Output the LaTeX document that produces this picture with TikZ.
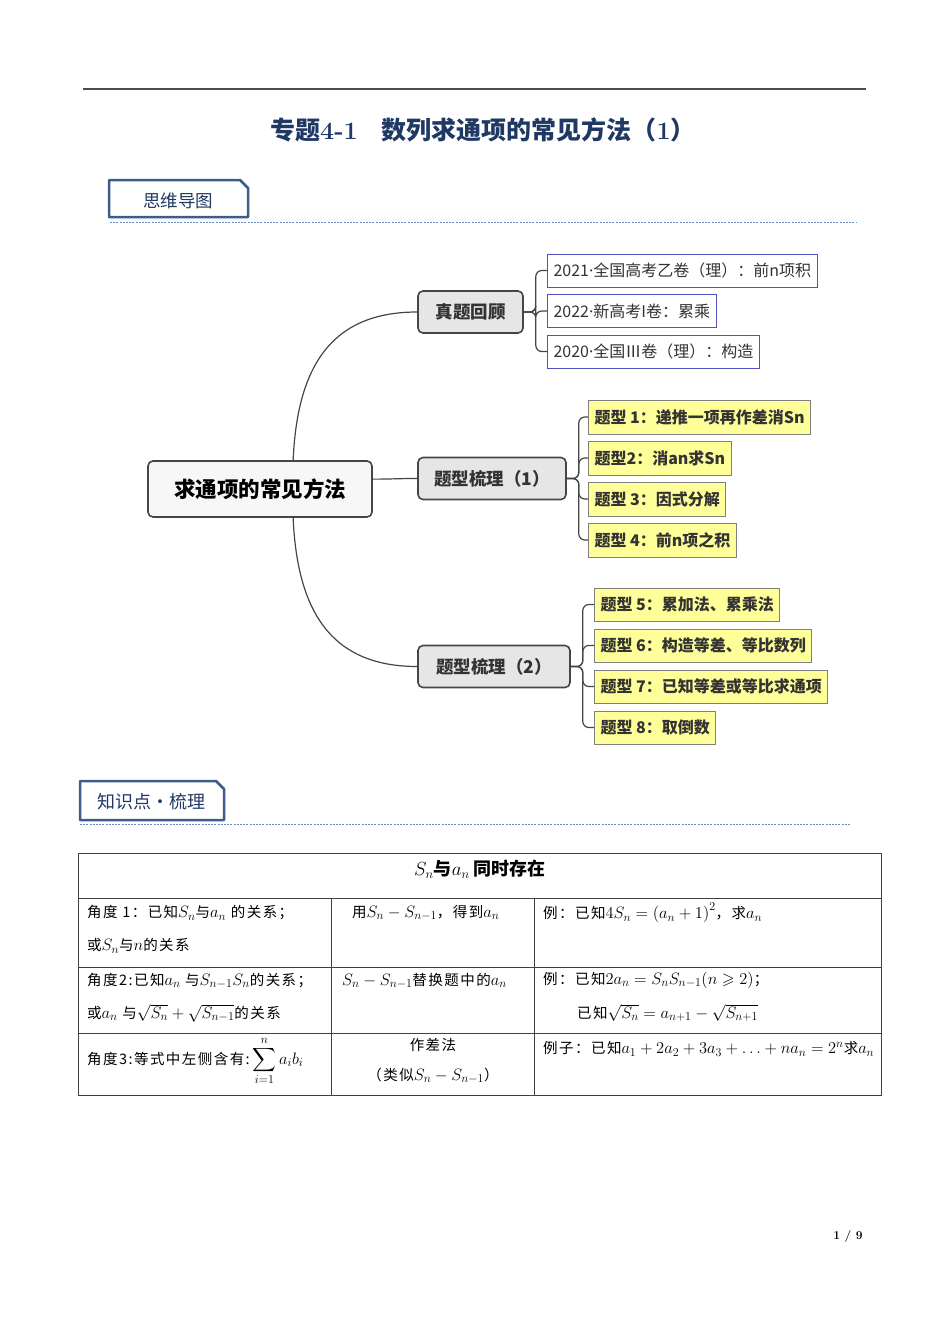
\documentclass[tikz,border=0pt]{standalone}
\usepackage{fix-cm}
\usepackage{amsmath}
\usepackage{amssymb}
\usepackage{fontspec}
\newfontfamily\cjk{Noto Sans CJK SC}
\newfontfamily\cjkt[LetterSpace=10]{Noto Sans CJK SC}
\newfontfamily\latinsans{Noto Sans}
\usetikzlibrary{positioning}
\definecolor{navy}{HTML}{1F3864}
\definecolor{tabblue}{HTML}{3E5C8A}
\definecolor{dashblue}{HTML}{6A8CC4}
\definecolor{linkgray}{HTML}{454545}
\definecolor{leafblue}{HTML}{5252C2}
\definecolor{leafyellow}{HTML}{FFFF99}
\definecolor{midgray}{HTML}{E6E6E6}
\definecolor{rootgray}{HTML}{F7F7F7}
\definecolor{txtgray}{HTML}{333333}
\newcommand\fsz[1]{\fontsize{#1}{#1}\selectfont}
\newcommand\mdot{{\latinsans·}}
\DeclareMathSizes{14.5}{16.5}{12}{9}
\DeclareMathSizes{18}{19}{13}{10}

\begin{document}
\begin{tikzpicture}[x=1pt,y=-1pt,
  link/.style={draw=linkgray,line width=1.2pt},
  fork/.style={link,rounded corners=6pt},
  rootbox/.style={draw=linkgray,fill=rootgray,line width=1.6pt,rounded corners=5pt,
    minimum width=224pt,minimum height=56pt,font=\cjk\bfseries\fsz{21.5},text=black},
  midbox/.style={draw=linkgray,fill=midgray,line width=1.6pt,rounded corners=5pt,
    minimum height=42pt,font=\cjk\bfseries\fsz{17.5},text=txtgray},
  bleaf/.style={draw=leafblue,fill=white,line width=1pt,minimum height=33pt,
    inner xsep=6pt,font=\cjk\fsz{16},text=txtgray},
  yleaf/.style={draw=gray,fill=leafyellow,line width=1pt,minimum height=34pt,
    inner xsep=6pt,font=\cjk\bfseries\fsz{16},text=txtgray},
  tabbox/.style={draw=tabblue,line width=2.5pt,line join=round},
  rule/.style={draw=dashblue,line width=0.8pt,dash pattern=on 2pt off 1.2pt},
  cell/.style={anchor=west,inner sep=0pt,font=\cjkt\fsz{14.5},text=black},
  grid/.style={draw=black!75,line width=0.9pt}]
\useasboundingbox (0,0) rectangle (950,1344);

% header
\draw[line width=1.6pt,draw=black!70] (83,89) -- (866,89);
\node (title) at (483,130) [text=navy]
  {{\cjk\bfseries\fsz{25}专题}{\bfseries\fsz{25}4-1}\hspace{24pt}%
   {\cjk\bfseries\fsz{25}数列求通项的常见方法（}{\bfseries\fsz{25}1}{\cjk\bfseries\fsz{25}）}};

% section tab 1
\draw[tabbox] (109,180) -- (240,180) -- (248,188) -- (248,217) -- (109,217) -- cycle;
\node (mind) at (178,201) [font=\cjk\fsz{17.5},text=navy] {思维导图};
\draw[rule] (110,222) -- (857,222);

% mind map
\node (root) at (260,489) [rootbox] {求通项的常见方法};
\node (zt) at (470.5,312) [midbox,minimum width=105pt] {真题回顾};
\node (tm) at (492,478.5) [midbox,minimum width=148pt] {题型梳理（1）};
\node (tg) at (494,666.5) [midbox,minimum width=152pt] {题型梳理（2）};

\draw[link] (root.41) .. controls +(4,-91) and +(-88,0) .. (zt.west);
\draw[link] (root.5) .. controls +(20,0) and +(-20,0) .. (tm.west);
\draw[link] (root.-41) .. controls +(4,91) and +(-88,0) .. (tg.west);

\node (h1) at (547,270.5) [bleaf,anchor=west] {2021\mdot 全国高考乙卷（理）：前n项积};
\node (h2) [bleaf,below=6.5pt of h1.south west,anchor=north west] {2022\mdot 新高考I卷：累乘};
\node (h3) [bleaf,below=6.5pt of h2.south west,anchor=north west] {2020\mdot 全国Ⅲ卷（理）：构造};
\foreach \n in {h1,h2,h3}
  \draw[fork] (zt.east) -- ++(12,0) |- (\n.west);

\node (t1) at (588,417) [yleaf,anchor=west] {题型 1：递推一项再作差消Sn};
\node (t2) [yleaf,below=6pt of t1.south west,anchor=north west] {题型2：消an求Sn};
\node (t3) [yleaf,below=6pt of t2.south west,anchor=north west] {题型 3：因式分解};
\node (t4) [yleaf,below=6pt of t3.south west,anchor=north west] {题型 4：前n项之积};
\foreach \n in {t1,t2,t3,t4}
  \draw[fork] (tm.east) -- ++(12,0) |- (\n.west);

\node (t5) at (594,604.5) [yleaf,anchor=west,minimum height=33pt] {题型 5：累加法、累乘法};
\node (t6) [yleaf,minimum height=33pt,below=7pt of t5.south west,anchor=north west] {题型 6：构造等差、等比数列};
\node (t7) [yleaf,minimum height=33pt,below=7pt of t6.south west,anchor=north west] {题型 7：已知等差或等比求通项};
\node (t8) [yleaf,minimum height=33pt,below=7pt of t7.south west,anchor=north west] {题型 8：取倒数};
\foreach \n in {t5,t6,t7,t8}
  \draw[fork] (tg.east) -- ++(12,0) |- (\n.west);

% section tab 2
\draw[tabbox] (80,781) -- (216,781) -- (224,789) -- (224,820) -- (80,820) -- cycle;
\node (know) at (151,802) [font=\cjk\fsz{18},text=navy] {知识点•梳理};
\draw[rule] (80,824) -- (851,824);

% table
\draw[grid] (78,853) rectangle (881,1095);
\draw[grid] (78,898) -- (881,898) (78,967) -- (881,967) (78,1033) -- (881,1033);
\draw[grid] (331,898) -- (331,1095) (534,898) -- (534,1095);

\node (head) at (480,869) [font=\cjk\bfseries\fsz{18}] {$S_n$与$a_n$\ 同时存在};

\node (a1) at (87,913) [cell] {角度 1：已知$S_n$与$a_n$\ 的关系；};
\node (a1b) at (87,946) [cell] {或$S_n$与$n$的关系};
\node (b1) at (352,913) [cell] {用$S_n-S_{n-1}$，得到$a_n$};
\node (c1) at (543,913) [cell] {例：已知$4S_n=\left(a_n+1\right)^2$，求$a_n$};

\node (a2) at (87,981) [cell] {角度2:已知$a_n$\ 与$S_{n-1}S_n$的关系；};
\node (a2b) at (87,1013) [cell] {或$a_n$\ 与$\sqrt{S_n}+\sqrt{S_{n-1}}$的关系};
\node (b2) at (342,981) [cell] {$S_n-S_{n-1}$替换题中的$a_n$};
\node (c2) at (543,980) [cell] {例：已知$2a_n=S_nS_{n-1}(n\geqslant 2)$；};
\node (c2b) at (577,1013) [cell] {已知$\sqrt{S_n}=a_{n+1}-\sqrt{S_{n+1}}$};

\node (a3) at (87,1061) [cell] {角度3:等式中左侧含有:$\,\displaystyle\sum_{i=1}^{n}a_ib_i$};
\node (b3) at (433,1045) [cell,anchor=center] {作差法};
\node (b3b) at (433,1076) [cell,anchor=center] {（类似$S_n-S_{n-1}$）};
\node (c3) at (543,1049) [cell] {例子：已知$a_1+2a_2+3a_3+\ldots+na_n=2^n$求$a_n$};

\node (page) at (848,1236) [font=\bfseries\fsz{12}] {1 / 9};
\end{tikzpicture}
\end{document}
